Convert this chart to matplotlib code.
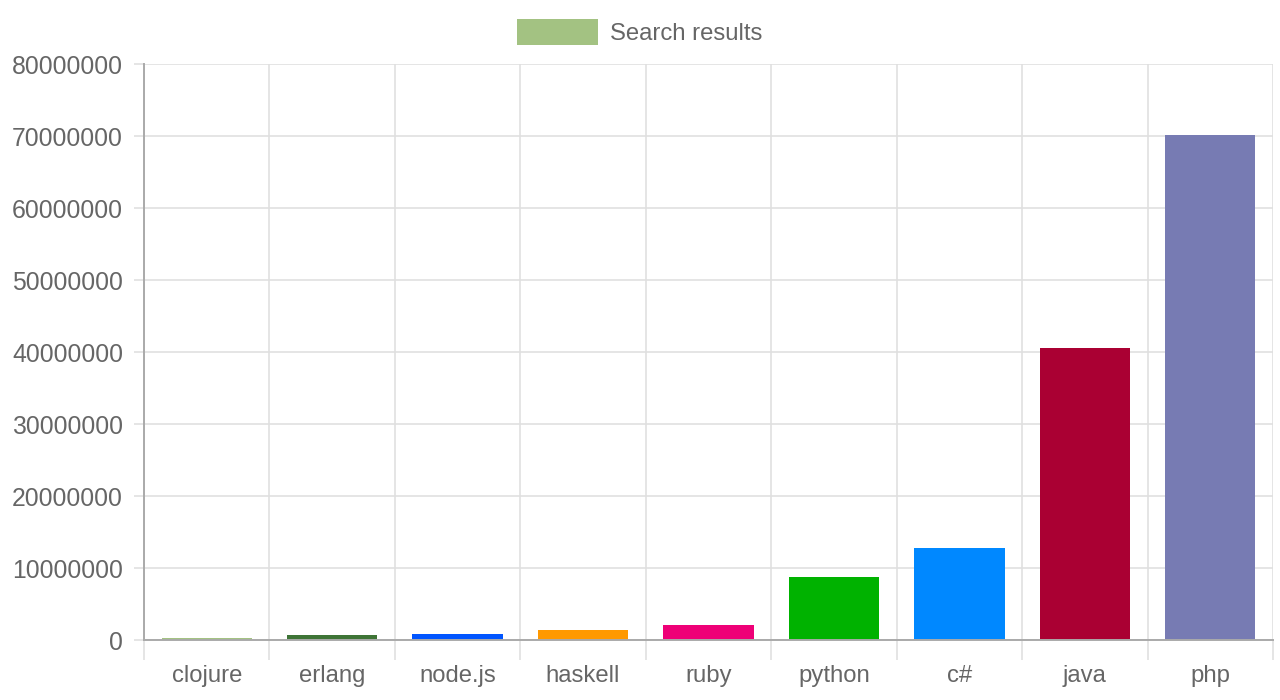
import numpy as np
import matplotlib
matplotlib.use("Agg")
import matplotlib.pyplot as plt
from matplotlib.patches import Patch

plt.rcParams['font.family'] = ['Liberation Sans', 'DejaVu Sans']

languages = ['clojure', 'erlang', 'node.js', 'haskell', 'ruby', 'python', 'c#', 'java', 'php']
search_results = [240000, 750000, 800000, 1450000, 2050000, 8700000, 12750000, 40600000, 70200000]
bar_colors = ['#a3c282', '#3e7436', '#0055ff', '#ff9900', '#ee0077',
              '#00b200', '#0088ff', '#aa0033', '#777bb3']
y_ticks = list(range(0, 80000001, 10000000))

text_color = '#666666'
grid_color = '#e0e0e0'

fig = plt.figure(figsize=(12.8, 7), dpi=100)
ax = fig.add_axes([144 / 1280, 60 / 700, (1273 - 144) / 1280, 576 / 700])

x = np.arange(len(languages))
ax.bar(x, search_results, width=0.72, color=bar_colors, zorder=3)

ax.set_xlim(-0.5, len(languages) - 0.5)
ax.set_ylim(0, 80000000)
ax.set_yticks(y_ticks)
ax.set_yticklabels([str(v) for v in y_ticks])
ax.set_xticks(x)
ax.set_xticklabels(languages)
ax.set_xticks(np.arange(-0.5, len(languages)), minor=True)

ax.grid(True, axis='y', color=grid_color, linewidth=1.2, zorder=0)
ax.grid(True, axis='x', which='minor', color=grid_color, linewidth=1.2, zorder=0)

ax.tick_params(axis='y', length=7.2, color=grid_color, width=1.2,
               labelsize=17.8, labelcolor=text_color, pad=8)
ax.tick_params(axis='x', which='major', length=0, labelsize=17.2,
               labelcolor=text_color, pad=18)
ax.tick_params(axis='x', which='minor', length=14.4, color=grid_color, width=1.2)

for side in ['top', 'right']:
    ax.spines[side].set_visible(False)
for side in ['left', 'bottom']:
    ax.spines[side].set_color('#aaaaaa')
    ax.spines[side].set_linewidth(1.4)
    ax.spines[side].set_zorder(4)

handle = Patch(facecolor=bar_colors[0], edgecolor='none')
fig.legend([handle], ['Search results'], loc='center', bbox_to_anchor=(0.5, 1 - 32 / 700),
           frameon=False, fontsize=17.2, labelcolor=text_color,
           handlelength=3.4, handleheight=1.3, handletextpad=0.5)

fig.savefig('out.png', dpi=100, facecolor='white')
